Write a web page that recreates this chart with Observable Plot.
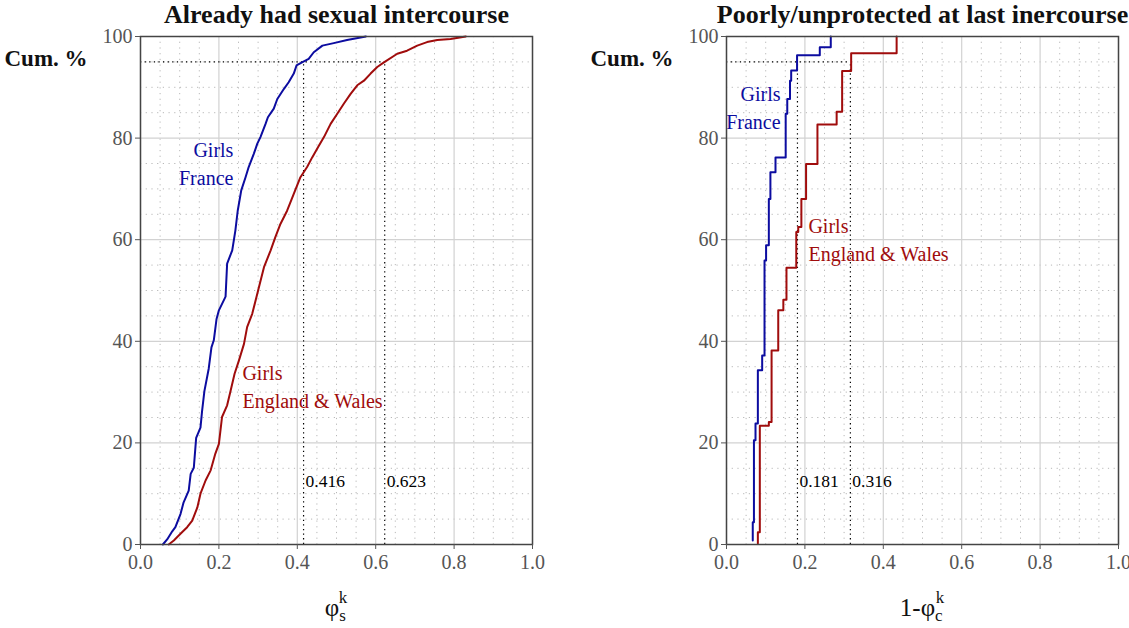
<!DOCTYPE html>
<html><head><meta charset="utf-8">
<script src="https://cdn.jsdelivr.net/npm/d3@7"></script>
<script src="https://cdn.jsdelivr.net/npm/@observablehq/plot@0.6"></script>
<style>
body{margin:0;background:#fff;}
#wrap{position:relative;width:1129px;height:628px;overflow:hidden;}
.p{position:absolute;top:0;}
</style>
</head><body>
<div id="wrap"><div class="p" id="left" style="left:0"></div><div class="p" id="right" style="left:586px"></div></div>
<script>
// ---- Data ----
const titles = ["Already had sexual intercourse", "Poorly/unprotected at last inercourse"];
const xTicks = [0, 0.2, 0.4, 0.6, 0.8, 1.0];
const yTicks = [0, 20, 40, 60, 80, 100];
const refLevel = 95;

// Left panel: phi_s^k cumulative distributions
const sexFranceX = [0.057,0.068,0.081,0.089,0.102,0.110,0.123,0.128,0.136,0.142,0.153,0.157,0.163,0.174,0.181,0.187,0.194,0.200,0.217,0.221,0.234,0.242,0.248,0.257,0.268,0.276,0.289,0.298,0.306,0.319,0.325,0.340,0.349,0.366,0.378,0.391,0.398,0.412,0.429,0.442,0.464,0.493,0.527,0.575];
const sexFranceY = [0,1.0,2.6,3.4,6.0,8.3,10.6,13.9,15.1,21.0,23.0,26.2,30.2,34.6,38.8,40.2,44.4,46.1,48.8,55.3,57.9,61.8,65.7,69.7,72.3,74.3,76.9,78.9,80.2,82.8,84.1,85.8,87.7,89.7,91.0,92.7,94.3,94.9,95.6,96.9,98.2,98.7,99.3,100];
const sexEnglandX = [0.072,0.085,0.102,0.119,0.132,0.145,0.153,0.166,0.179,0.191,0.200,0.208,0.221,0.230,0.240,0.251,0.264,0.272,0.285,0.300,0.315,0.332,0.344,0.357,0.374,0.391,0.408,0.425,0.438,0.455,0.468,0.485,0.502,0.519,0.536,0.553,0.570,0.587,0.604,0.621,0.655,0.680,0.706,0.731,0.757,0.791,0.830];
const sexEnglandY = [0,0.8,2.1,3.4,4.7,7.3,10.0,12.6,14.6,17.9,19.8,25.1,27.4,30.3,33.6,36.2,39.5,42.8,45.4,50.0,54.6,57.9,60.5,63.1,65.7,69.0,72.3,74.3,76.2,78.5,80.2,82.8,84.8,86.8,88.7,90.4,91.3,92.7,94.0,94.9,96.6,97.2,98.2,98.9,99.3,99.5,100];
const sexQuantiles = [0.416, 0.623];

// Right panel: 1-phi_c^k cumulative distributions (step functions)
const protFranceX = [0.067,0.067,0.070,0.074,0.080,0.091,0.097,0.101,0.108,0.112,0.125,0.151,0.155,0.162,0.165,0.180,0.238,0.266];
const protFranceY = [0.8,4.4,20.5,23.8,34.3,37.2,55.9,58.9,68.0,73.3,76.2,84.8,87.7,91.3,93.3,96.3,97.9,100];
const protEnglandX = [0.080,0.080,0.085,0.108,0.115,0.132,0.145,0.153,0.178,0.183,0.191,0.203,0.232,0.281,0.295,0.318,0.434];
const protEnglandY = [0.2,2.4,23.4,24.1,38.2,46.1,48.2,54.5,61.5,62.5,68.0,74.9,82.7,85.2,93.2,96.7,100];
const protQuantiles = [0.181, 0.316];

const seriesNames = ["France", "England & Wales"];
const colors = {"France": "#0c0ca0", "England & Wales": "#a00c0c"};

// ---- Drawing ----
const FONT = "Liberation Serif, serif";
const zip = (xs, ys, name) => xs.map((x, i) => ({x, y: ys[i], name}));

function panel(cfg) {
  const data = [
    ...zip(cfg.fx, cfg.fy, seriesNames[0]),
    ...zip(cfg.ex, cfg.ey, seriesNames[1])
  ];
  const minorX = d3.range(0, 1.0001, 0.05).filter(v => Math.abs(v * 5 - Math.round(v * 5)) > 1e-6);
  const minorY = d3.range(0, 100.001, 5).filter(v => v % 20 !== 0);
  const labels = cfg.labels;
  const svg = Plot.plot({
    width: cfg.width, height: 628,
    marginLeft: 140, marginRight: cfg.width - 532, marginTop: 36, marginBottom: 84,
    style: {fontFamily: FONT, background: "#fff"},
    x: {domain: [0, 1]},
    y: {domain: [0, 100]},
    marks: [
      Plot.gridX(minorX, {stroke: "#b8b8b8", strokeOpacity: 1, strokeDasharray: "1.2,4.5"}),
      Plot.gridY(minorY, {stroke: "#b8b8b8", strokeOpacity: 1, strokeDasharray: "1.2,4.5"}),
      Plot.gridX(xTicks, {stroke: "#d2d2d2", strokeOpacity: 1, strokeWidth: 1.2}),
      Plot.gridY(yTicks, {stroke: "#d2d2d2", strokeOpacity: 1, strokeWidth: 1.2}),
      Plot.ruleY([refLevel], {x1: 0, x2: cfg.q[1], stroke: "#000", strokeWidth: 1.2, strokeDasharray: "1.3,3.3"}),
      Plot.ruleX(cfg.q, {y1: 0, y2: refLevel, stroke: "#000", strokeWidth: 1.2, strokeDasharray: "1.3,3.3"}),
      Plot.text(cfg.q, {x: d => d, y: 12.4, text: d => d.toFixed(3), textAnchor: "start", dx: 2, fontSize: 17.5, fill: "#000"}),
      Plot.line(data, {x: "x", y: "y", z: "name", stroke: d => colors[d.name], strokeWidth: 2, curve: cfg.curve}),
      Plot.text(labels.filter(d => d.anchor === "end"), {x: "x", y: "y", text: "text", fill: d => colors[d.name], textAnchor: "end", fontSize: 20}),
      Plot.text(labels.filter(d => d.anchor === "start"), {x: "x", y: "y", text: "text", fill: d => colors[d.name], textAnchor: "start", fontSize: 20}),
      Plot.frame({stroke: "#444", strokeWidth: 1.5}),
      Plot.axisX(xTicks, {tickFormat: d => d.toFixed(1), tickSize: 5, tickPadding: 5, fontSize: 20, color: "#555", label: null}),
      Plot.axisY(yTicks, {tickSize: 5, tickPadding: 3, fontSize: 20, color: "#555", label: null}),
      Plot.text([cfg.title], {frameAnchor: "top", lineAnchor: "middle", dy: -22, fontSize: 26, fontWeight: "bold", fill: "#111"}),
      Plot.text(["Cum. %"], {frameAnchor: "top-left", lineAnchor: "middle", dx: -136, dy: 22, textAnchor: "start", fontSize: 23, fontWeight: "bold", fill: "#111"})
    ]
  });
  // axis label with sub/superscripts
  const t = d3.select(svg).append("text")
    .attr("x", 336).attr("y", 616).attr("text-anchor", "middle")
    .attr("font-family", FONT).attr("font-size", 25).attr("fill", "#111");
  t.append("tspan").text(cfg.axisMain);
  t.append("tspan").attr("font-size", 17).attr("dy", 5).text(cfg.axisSub);
  t.append("tspan").attr("font-size", 17).attr("dx", -7).attr("dy", -18).text("k");
  return svg;
}

const leftLabels = [
  {x: 0.237, y: 77.6, text: "Girls", name: "France", anchor: "end"},
  {x: 0.237, y: 72.0, text: "France", name: "France", anchor: "end"},
  {x: 0.260, y: 33.7, text: "Girls", name: "England & Wales", anchor: "start"},
  {x: 0.260, y: 28.1, text: "England & Wales", name: "England & Wales", anchor: "start"}
];
const rightLabels = [
  {x: 0.138, y: 88.6, text: "Girls", name: "France", anchor: "end"},
  {x: 0.138, y: 83.1, text: "France", name: "France", anchor: "end"},
  {x: 0.209, y: 62.6, text: "Girls", name: "England & Wales", anchor: "start"},
  {x: 0.209, y: 57.1, text: "England & Wales", name: "England & Wales", anchor: "start"}
];

document.getElementById("left").append(panel({
  width: 560, title: titles[0], fx: sexFranceX, fy: sexFranceY, ex: sexEnglandX, ey: sexEnglandY,
  q: sexQuantiles, curve: "linear", labels: leftLabels, axisMain: "φ", axisSub: "s"
}));
document.getElementById("right").append(panel({
  width: 543, title: titles[1], fx: protFranceX, fy: protFranceY, ex: protEnglandX, ey: protEnglandY,
  q: protQuantiles, curve: "step-after", labels: rightLabels, axisMain: "1-φ", axisSub: "c"
}));
</script>
</body></html>
